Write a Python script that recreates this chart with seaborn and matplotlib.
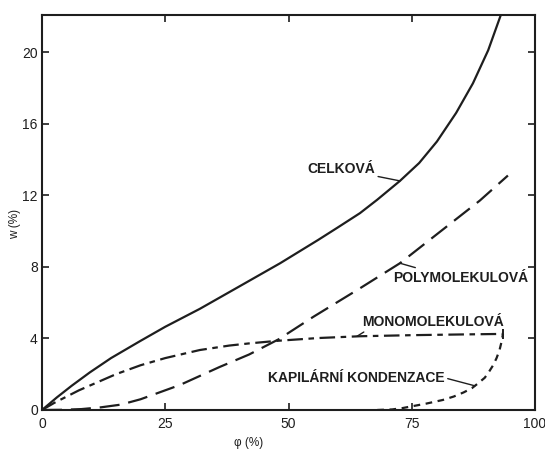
import matplotlib
matplotlib.use("Agg")
import matplotlib.pyplot as plt
import seaborn as sns
import pandas as pd

# Sorption isotherm components: moisture content w (%) vs relative humidity phi (%)
celkova_phi = [0, 3, 6, 9.7, 14, 19.9, 25, 32, 40, 48.3, 56, 60, 64.5, 68, 72.6,
               76.5, 80.1, 84, 87.4, 90.5, 93.1]
celkova_w = [0, 0.7, 1.35, 2.1, 2.9, 3.85, 4.65, 5.65, 6.9, 8.2, 9.5, 10.2, 11.0,
             11.75, 12.8, 13.8, 15.0, 16.6, 18.25, 20.1, 22.1]

poly_phi = [0, 4, 8, 12, 16, 20, 24, 28, 32, 36, 42, 48, 55, 64.5, 72.6, 80, 88.8, 94.5]
poly_w = [0, 0.01, 0.05, 0.15, 0.3, 0.6, 1.0, 1.4, 1.9, 2.4, 3.1, 3.95, 5.2, 6.8,
          8.2, 9.8, 11.7, 13.1]

mono_phi = [0, 2.5, 5, 7.5, 10, 15, 20, 25, 32, 38, 42, 48, 56, 64.5, 75, 85, 93.5]
mono_w = [0, 0.4, 0.75, 1.1, 1.4, 2.0, 2.5, 2.9, 3.35, 3.6, 3.72, 3.87, 4.02, 4.12,
          4.18, 4.22, 4.25]

kapil_phi = [68, 71, 73, 75.3, 78, 81.3, 83.5, 85.5, 87.2, 88.5, 89.8, 90.7, 91.5,
             92.2, 92.8, 93.2, 93.5]
kapil_w = [0, 0.03, 0.1, 0.22, 0.36, 0.56, 0.75, 0.98, 1.22, 1.5, 1.8, 2.15, 2.5,
           2.9, 3.35, 3.8, 4.25]

x_ticks = [0, 25, 50, 75, 100]
y_ticks = [0, 4, 8, 12, 16, 20]

sns.set_style("ticks")
plt.rcParams["font.family"] = ["Liberation Sans", "DejaVu Sans"]

ink = "#1e1e1e"
fig = plt.figure(figsize=(5.45, 4.49), dpi=100)
ax = fig.add_axes([0.0771, 0.0869, 0.9046, 0.8797])

lw = 1.6


def draw(phi, w, dashes=None):
    sns.lineplot(data=pd.DataFrame({"phi": phi, "w": w}), x="phi", y="w",
                 sort=False, estimator=None, ax=ax, color=ink, lw=lw)
    line = ax.lines[-1]
    line.set_solid_joinstyle("round")
    line.set_dash_joinstyle("round")
    if dashes:
        line.set_dashes(dashes)


draw(celkova_phi, celkova_w)
draw(poly_phi, poly_w, [9, 4])
draw(mono_phi, mono_w, [7, 2.5, 2.5, 2.5])
draw(kapil_phi, kapil_w, [3, 2.5])
# end mark of the monolayer branch
ax.plot(mono_phi[-1:], mono_w[-1:], marker="|", ms=7, mew=1.4, color=ink)

ax.set_xlim(0, 100)
ax.set_ylim(0, 22.07)
ax.set_xticks(x_ticks)
ax.set_yticks(y_ticks)
ax.tick_params(direction="in", length=5, width=1.2, colors=ink, labelsize=10,
               top=True, right=True, labeltop=False, labelright=False)
ax.tick_params(axis="x", pad=5)
ax.tick_params(axis="y", pad=3)
for s in ax.spines.values():
    s.set_visible(True)
    s.set_linewidth(1.5)
    s.set_color(ink)

ax.set_xlabel("φ (%)", fontsize=8.5, color=ink)
ax.set_ylabel("w (%)", fontsize=8.5, color=ink)
ax.xaxis.set_label_coords(0.42, -0.068)
ax.yaxis.set_label_coords(-0.043, 0.47)

lab = dict(fontsize=10, fontweight="bold", color=ink, va="center")
leader = dict(arrowstyle="-", color=ink, lw=1.0, shrinkA=0, shrinkB=0)

ax.annotate("CELKOVÁ", xy=(72.6, 12.8), xytext=(67.5, 13.46), ha="right",
            arrowprops=leader, **lab)
ax.annotate("POLYMOLEKULOVÁ", xy=(72.6, 8.2), xytext=(71.2, 7.38), ha="left",
            arrowprops=dict(leader, relpos=(0.25, 1.0)), **lab)
ax.annotate("MONOMOLEKULOVÁ", xy=(63.9, 4.12), xytext=(64.9, 4.93), ha="left",
            arrowprops=dict(leader, relpos=(0.05, 0.0)), **lab)
ax.annotate("KAPILÁRNÍ KONDENZACE", xy=(87.8, 1.35), xytext=(45.8, 1.8), ha="left",
            arrowprops=dict(leader, relpos=(1.0, 0.5)), **lab)

fig.savefig("out.png", dpi=100, facecolor="white")
